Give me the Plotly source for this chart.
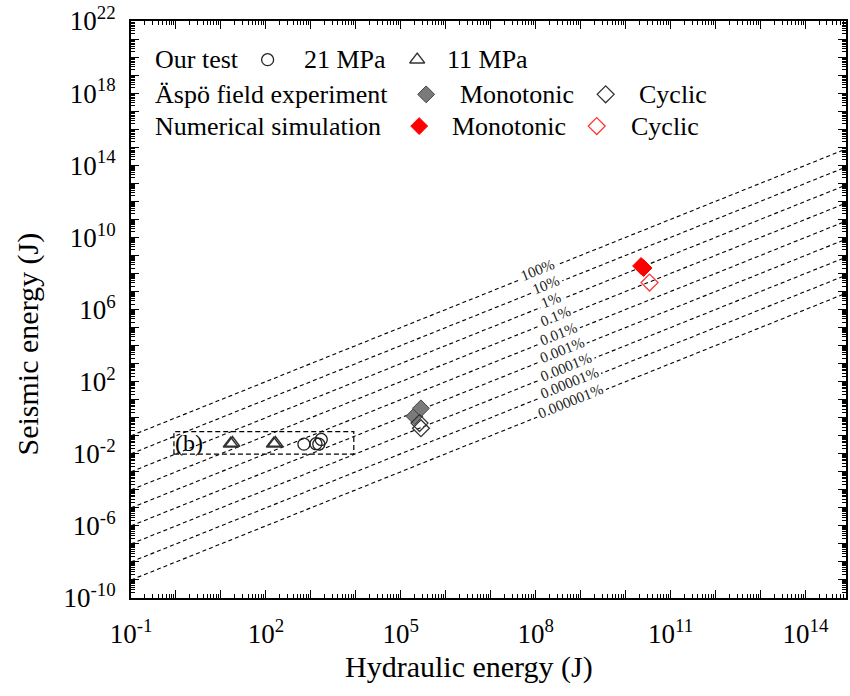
import numpy as np
import plotly.graph_objects as go

# ---- data ----
# efficiency lines: seismic energy = efficiency * hydraulic energy
efficiency = [1, 1e-1, 1e-2, 1e-3, 1e-4, 1e-5, 1e-6, 1e-7, 1e-8]
efficiency_labels = ["100%", "10%", "1%", "0.1%", "0.01%", "0.001%",
                     "0.0001%", "0.00001%", "0.000001%"]
label_log_x = [8.04, 8.22, 8.35, 8.45, 8.50, 8.59, 8.67, 8.74, 8.78]

# our laboratory test
test21_eh = [700, 1300, 1500, 1700]
test21_es = [0.034, 0.036, 0.034, 0.062]
test11_eh = [16.5, 18.0, 150, 162]
test11_es = [0.036, 0.039, 0.036, 0.039]

# Äspö field experiment
aspo_mono_eh = [2.0e5, 2.8e5]
aspo_mono_es = [1.2, 3.3]
aspo_cyc_eh = [2.6e5, 2.8e5]
aspo_cyc_es = [0.5, 0.26]

# numerical simulation
num_mono_eh = [2.2e10, 2.5e10]
num_mono_es = [2.6e8, 2.0e8]
num_cyc_eh = [3.4e10]
num_cyc_es = [3.1e7]

FONT = "Liberation Serif, Times New Roman, serif"

fig = go.Figure()

# dashed efficiency lines
x_line = [1e-1, 1e15]
for eff in efficiency:
    fig.add_trace(go.Scatter(
        x=x_line, y=[eff * v for v in x_line], mode="lines",
        line=dict(color="black", width=1.1, dash="4px,3px"),
        hoverinfo="skip", showlegend=False))

# marker styles
circle_m = dict(symbol="circle-open", size=12, color="#222", line=dict(width=1.3))
tri_m = dict(symbol="triangle-up-open", size=13, color="#333", line=dict(width=1.5))
aspo_mono_m = dict(symbol="diamond", size=13, color="#7a7a7a", line=dict(color="#444", width=1))
aspo_cyc_m = dict(symbol="diamond-open", size=13, color="#333", line=dict(width=1.3))
num_mono_m = dict(symbol="diamond", size=13, color="#ff0000", line=dict(color="#ff0000", width=1))
num_cyc_m = dict(symbol="diamond-open", size=13, color="#ff3333", line=dict(width=1.3))

# data markers
fig.add_trace(go.Scatter(x=test21_eh, y=test21_es, mode="markers", marker=circle_m))
fig.add_trace(go.Scatter(x=test11_eh, y=test11_es, mode="markers", marker=tri_m))
fig.add_trace(go.Scatter(x=aspo_mono_eh, y=aspo_mono_es, mode="markers", marker=aspo_mono_m))
fig.add_trace(go.Scatter(x=aspo_cyc_eh, y=aspo_cyc_es, mode="markers", marker=aspo_cyc_m))
fig.add_trace(go.Scatter(x=num_mono_eh, y=num_mono_es, mode="markers", marker=num_mono_m))
fig.add_trace(go.Scatter(x=num_cyc_eh, y=num_cyc_es, mode="markers", marker=num_cyc_m))

# efficiency labels along the lines
annotations = []
for eff, txt, lx in zip(efficiency, efficiency_labels, label_log_x):
    annotations.append(dict(
        x=lx, y=lx + np.log10(eff), xref="x", yref="y", text=txt,
        showarrow=False, textangle=-22, font=dict(family=FONT, size=15, color="#222"),
        bgcolor="white", borderpad=2, yshift=3))

# zoom box for the laboratory data
fig.add_shape(type="rect", xref="x", yref="y", x0=0.9, x1=9000, y0=0.0095, y1=0.17,
              line=dict(color="black", width=1.2, dash="5px,3px"))
annotations.append(dict(x=np.log10(1.9), y=np.log10(0.04), xref="x", yref="y",
                        text="(b)", showarrow=False,
                        font=dict(family=FONT, size=24, color="black")))

# custom legend (paper-pixel layout)
L, R, T, B = 131, 848, 16, 598
def px(x):
    return (x - L) / (R - L)
def py(y):
    return (B - y) / (B - T)

legend_rows = [
    (55, [(153, "Our test"), (302, "21 MPa"), (446, "11 MPa")]),
    (90, [(153, "Äspö field experiment"), (459, "Monotonic"), (638, "Cyclic")]),
    (122, [(153, "Numerical simulation"), (451, "Monotonic"), (630, "Cyclic")]),
]
for y, items in legend_rows:
    for x, txt in items:
        annotations.append(dict(x=px(x), y=py(y), xref="paper", yref="paper",
                                xanchor="left", yanchor="middle", text=txt,
                                showarrow=False,
                                font=dict(family=FONT, size=26, color="black")))

legend_markers = [
    (268, 55, circle_m), (418, 55, tri_m),
    (427, 90, aspo_mono_m), (607, 90, aspo_cyc_m),
    (420, 122, num_mono_m), (598, 122, num_cyc_m),
]
for x, y, m in legend_markers:
    fig.add_trace(go.Scatter(x=[px(x)], y=[py(y)], mode="markers", marker=m,
                             xaxis="x2", yaxis="y2", hoverinfo="skip", showlegend=False))

# axis titles
annotations.append(dict(x=px(470), y=py(668), xref="paper", yref="paper",
                        xanchor="center", yanchor="middle",
                        text="Hydraulic energy (J)", showarrow=False,
                        font=dict(family=FONT, size=30, color="black")))
annotations.append(dict(x=px(28), y=py(342), xref="paper", yref="paper",
                        xanchor="center", yanchor="middle",
                        text="Seismic energy (J)", showarrow=False, textangle=-90,
                        font=dict(family=FONT, size=30, color="black")))

# ticks
x_major = list(range(-1, 15))
y_major = list(range(-10, 23))
x_tickvals = [10.0 ** k for k in x_major]
x_ticktext = [f"10<sup>{k}</sup>" if (k + 1) % 3 == 0 else "" for k in x_major]
y_tickvals = [10.0 ** k for k in y_major]
y_ticktext = [f"10<sup>{k}</sup>" if (k + 10) % 4 == 0 else "" for k in y_major]
x_minor = [m * 10.0 ** k for k in x_major for m in range(2, 10)]
y_minor = [m * 10.0 ** k for k in y_major for m in range(2, 10)]

axis_common = dict(type="log", showgrid=False, zeroline=False, showline=True,
                   linecolor="black", linewidth=2, mirror="allticks",
                   ticks="inside", ticklen=8, tickwidth=1.3, tickcolor="black",
                   tickmode="array", ticklabeloverflow="allow",
                   tickfont=dict(family=FONT, size=27, color="black"))

fig.update_layout(
    width=850, height=696,
    margin=dict(l=L, r=850 - R, t=T, b=696 - B),
    paper_bgcolor="white", plot_bgcolor="white",
    showlegend=False,
    xaxis=dict(range=[-1.0005, 14.9], tickvals=x_tickvals, ticktext=x_ticktext,
               ticklabelstandoff=11,
               minor=dict(tickmode="array", tickvals=x_minor, ticks="inside",
                          ticklen=4, tickwidth=1, tickcolor="black", showgrid=False),
               **axis_common),
    yaxis=dict(range=[-10.0005, 22.0005], tickvals=y_tickvals, ticktext=y_ticktext,
               ticklabelstandoff=8,
               minor=dict(tickmode="array", tickvals=y_minor, ticks="inside",
                          ticklen=4, tickwidth=1, tickcolor="black", showgrid=False),
               **axis_common),
    xaxis2=dict(overlaying="x", range=[0, 1], visible=False, fixedrange=True),
    yaxis2=dict(overlaying="y", range=[0, 1], visible=False, fixedrange=True),
    annotations=annotations,
)

fig.write_html("out.html")
